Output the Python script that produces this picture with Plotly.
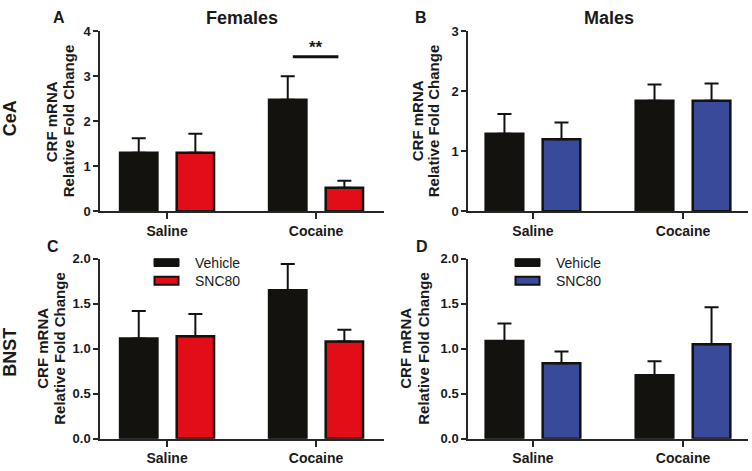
import plotly.graph_objects as go

W, H = 752, 471

categories = ["Saline", "Cocaine"]
series_names = ["Vehicle", "SNC80"]

# Panel A: CeA, Females
a_vehicle = [1.30, 2.48]
a_vehicle_err = [0.32, 0.52]
a_snc80 = [1.30, 0.52]
a_snc80_err = [0.42, 0.16]

# Panel B: CeA, Males
b_vehicle = [1.29, 1.84]
b_vehicle_err = [0.33, 0.27]
b_snc80 = [1.20, 1.84]
b_snc80_err = [0.28, 0.29]

# Panel C: BNST, Females
c_vehicle = [1.115, 1.65]
c_vehicle_err = [0.305, 0.29]
c_snc80 = [1.14, 1.08]
c_snc80_err = [0.247, 0.13]

# Panel D: BNST, Males
d_vehicle = [1.086, 0.706]
d_vehicle_err = [0.194, 0.154]
d_snc80 = [0.84, 1.05]
d_snc80_err = [0.13, 0.41]

y_ticks_top_a = [0, 1, 2, 3, 4]
y_ticks_top_b = [0, 1, 2, 3]
y_ticks_bottom = [0.0, 0.5, 1.0, 1.5, 2.0]

BLACK = "#13120e"
RED = "#e30d18"
BLUE = "#394a9b"
AXC = "#262626"
FONT = "Arial, Liberation Sans, sans-serif"

fig = go.Figure()

panels = [
    ("x", "y", a_vehicle, a_vehicle_err, a_snc80, a_snc80_err, RED),
    ("x2", "y2", b_vehicle, b_vehicle_err, b_snc80, b_snc80_err, BLUE),
    ("x3", "y3", c_vehicle, c_vehicle_err, c_snc80, c_snc80_err, RED),
    ("x4", "y4", d_vehicle, d_vehicle_err, d_snc80, d_snc80_err, BLUE),
]

for xa, ya, veh, veh_e, snc, snc_e, col in panels:
    for name, vals, errs, fill in [(series_names[0], veh, veh_e, BLACK),
                                   (series_names[1], snc, snc_e, col)]:
        fig.add_trace(go.Bar(
            x=categories, y=vals, name=name, xaxis=xa, yaxis=ya,
            marker=dict(color=fill, line=dict(color=BLACK, width=2.5)),
            error_y=dict(type="data", symmetric=False, array=errs,
                         arrayminus=[0] * len(errs), color=BLACK,
                         thickness=2, width=7),
            showlegend=False,
        ))


def px2x(px):
    return px / W


def px2y(py):
    return 1 - py / H


def xaxis(domain, rng, anchor):
    return dict(domain=domain, range=rng, anchor=anchor, type="category",
                showline=True, linecolor=AXC, linewidth=1.5,
                ticks="outside", ticklen=6, tickwidth=1.5, tickcolor=AXC,
                showgrid=False, zeroline=False,
                tickfont=dict(family=FONT, size=14, color="#1a1a1a", weight="bold"))


def yaxis(domain, rng, anchor, tickvals, fmt):
    return dict(domain=domain, range=rng, anchor=anchor,
                showline=True, linecolor=AXC, linewidth=1.5,
                ticks="outside", ticklen=5, tickwidth=1.5, tickcolor=AXC,
                tickvals=tickvals, tickformat=fmt,
                showgrid=False, zeroline=False,
                tickfont=dict(family=FONT, size=13, color="#1a1a1a", weight="bold"))


left_dom = [px2x(100), px2x(384)]
right_dom = [px2x(468), px2x(748)]
top_dom = [px2y(211), px2y(25)]
bot_dom = [px2y(446), px2y(260)]
left_rng = [-0.45, 1.456]
right_rng = [-0.433, 1.433]

fig.update_layout(
    width=W, height=H,
    margin=dict(l=0, r=0, t=0, b=0),
    paper_bgcolor="white", plot_bgcolor="white",
    barmode="group", bargap=0.24, bargroupgap=0.34,
    xaxis=xaxis(left_dom, left_rng, "y"),
    yaxis=yaxis(top_dom, [0, 4], "x", y_ticks_top_a, "d"),
    xaxis2=xaxis(right_dom, right_rng, "y2"),
    yaxis2=yaxis(top_dom, [0, 3], "x2", y_ticks_top_b, "d"),
    xaxis3=xaxis(left_dom, left_rng, "y3"),
    yaxis3=yaxis(bot_dom, [0, 2], "x3", y_ticks_bottom, ".1f"),
    xaxis4=xaxis(right_dom, right_rng, "y4"),
    yaxis4=yaxis(bot_dom, [0, 2], "x4", y_ticks_bottom, ".1f"),
    font=dict(family=FONT, color="#1a1a1a"),
)

ann = []


def text(x, y, s, size, bold=True, angle=0, xanchor="center", yanchor="middle", pad=1):
    ann.append(dict(x=px2x(x), y=px2y(y), xref="paper", yref="paper",
                    text=s, showarrow=False, textangle=angle,
                    xanchor=xanchor, yanchor=yanchor, borderpad=pad,
                    font=dict(family=FONT, size=size, color="#1a1a1a",
                              weight="bold" if bold else "normal")))


text(242, 0, "Females", 18, yanchor="top", pad=0)
text(609, 0, "Males", 18, yanchor="top", pad=0)
text(59, 1, "A", 16, yanchor="top", pad=0)
text(421, 1, "B", 16, yanchor="top", pad=0)
text(53, 247, "C", 16)
text(422, 247, "D", 16)
text(10, 115, "CeA", 18, angle=-90)
text(10, 357, "BNST", 18, angle=-90)
ytitle_lines = ["CRF mRNA", "Relative Fold Change"]
for c1, c2, cy in [(51, 68, 118), (417, 433, 118), (43, 60, 353), (406, 424, 353)]:
    text(c1, cy, ytitle_lines[0], 15, angle=-90)
    text(c2, cy, ytitle_lines[1], 15, angle=-90)

# significance marker in panel A
ann.append(dict(x=1.0, y=3.43, xref="x", yref="y", text="**", showarrow=False,
                yanchor="bottom", yshift=-2,
                font=dict(family=FONT, size=17, color="#1a1a1a", weight="bold")))

shapes = [dict(type="line", xref="x", yref="y", x0=0.844, x1=1.15, y0=3.43, y1=3.43,
               line=dict(color=BLACK, width=3))]

# legends for panels C and D
for lx, col in [(154, RED), (515, BLUE)]:
    shapes.append(dict(type="rect", xref="paper", yref="paper",
                       x0=px2x(lx), x1=px2x(lx + 25), y0=px2y(268), y1=px2y(260),
                       fillcolor=BLACK, line=dict(color=BLACK, width=1)))
    shapes.append(dict(type="rect", xref="paper", yref="paper",
                       x0=px2x(lx + 0.5), x1=px2x(lx + 24.5), y0=px2y(287), y1=px2y(278.5),
                       fillcolor=col, line=dict(color=BLACK, width=2)))
    text(lx + 39, 264, series_names[0], 14, bold=False, xanchor="left")
    text(lx + 39, 283, series_names[1], 14, bold=False, xanchor="left")

fig.update_layout(annotations=ann, shapes=shapes)

fig.write_html("out.html",
               config={"displayModeBar": False},
               post_script="document.body.style.margin='0';document.body.style.overflow='hidden';")
